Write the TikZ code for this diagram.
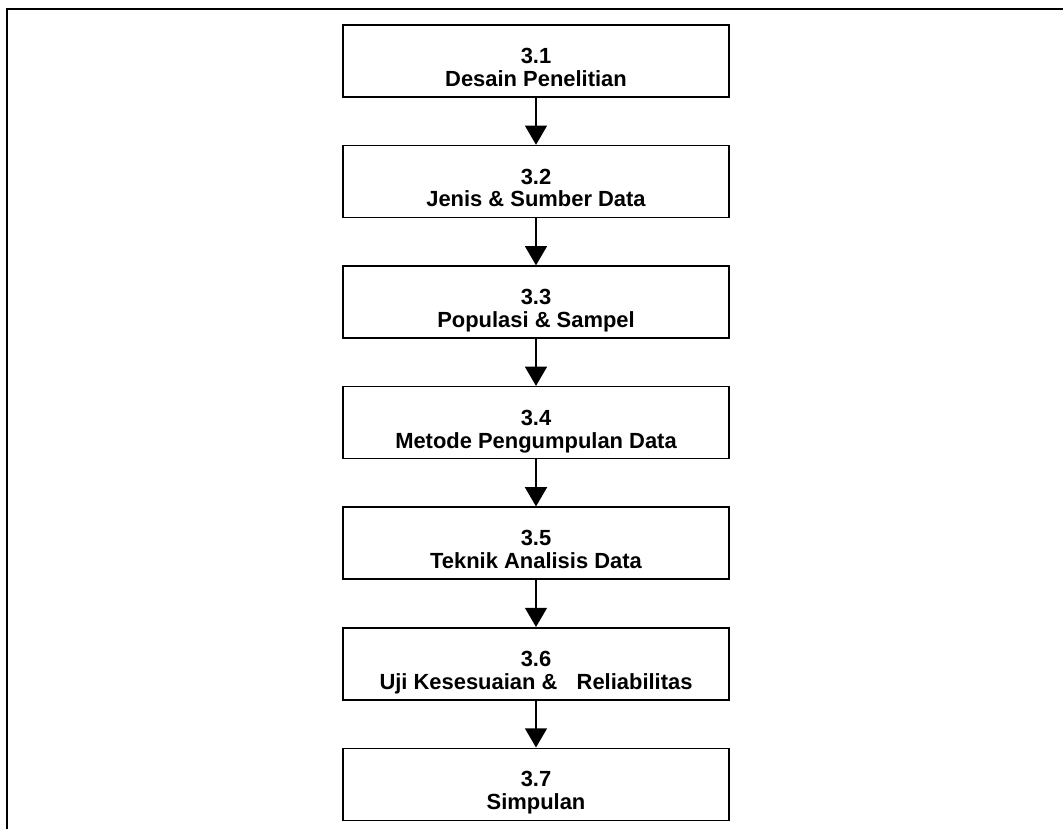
\documentclass[tikz,border=0pt]{standalone}
\usepackage{fontspec}
\setmainfont{Liberation Sans}
\usetikzlibrary{arrows.meta, positioning}

\tikzset{
  tahap/.style={draw=black, line width=1.1pt, minimum width=9.65cm, minimum height=1.8cm,
    inner sep=0pt, align=center, font=\fontsize{15.6}{16.3}\selectfont\bfseries,
    text height=1.27cm, text depth=0pt},
  alur/.style={line width=1pt, -{Triangle[length=0.48cm, width=0.55cm]}}
}

\begin{document}
\begin{tikzpicture}[node distance=1.175cm]

% Frame (fixes the size of the page)
\useasboundingbox (0,0) rectangle (26.575,-20.725);
\begin{scope}
\clip (0,0) rectangle (26.575,-20.725);
\draw[line width=1.5pt] (0.18,-21.5) -- (0.18,-0.22) -- (27.0,-0.22);
\end{scope}

% Steps of chapter III
\node[tahap] (desain) at (13.4,-1.525) {3.1\\Desain Penelitian};
\node[tahap, below=of desain] (jenis) {3.2\\Jenis \& Sumber Data};
\node[tahap, below=of jenis] (populasi) {3.3\\Populasi \& Sampel};
\node[tahap, below=of populasi] (metode) {3.4\\Metode Pengumpulan Data};
\node[tahap, below=of metode] (teknik) {3.5\\Teknik Analisis Data};
\node[tahap, below=of teknik] (uji) {3.6\\Uji Kesesuaian \&\hspace{0.6em} Reliabilitas};
\node[tahap, below=of uji] (simpulan) {3.7\\Simpulan};

% Arrows
\draw[alur] (desain) -- (jenis);
\draw[alur] (jenis) -- (populasi);
\draw[alur] (populasi) -- (metode);
\draw[alur] (metode) -- (teknik);
\draw[alur] (teknik) -- (uji);
\draw[alur] (uji) -- (simpulan);

\end{tikzpicture}
\end{document}
